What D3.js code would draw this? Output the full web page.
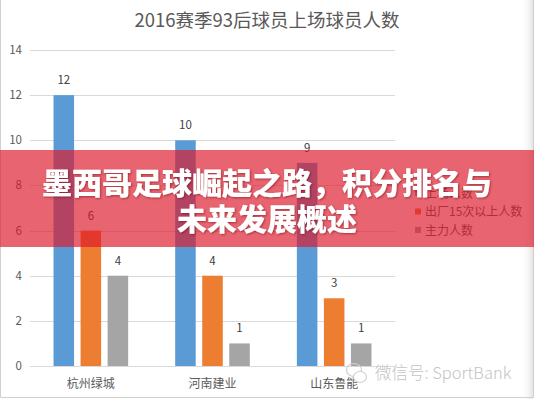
<!DOCTYPE html>
<html>
<head>
<meta charset="utf-8">
<script src="https://cdn.jsdelivr.net/npm/d3@7"></script>
<style>
  html, body { margin: 0; padding: 0; background: #fff; }
  svg { display: block; font-family: "Noto Sans CJK SC", "Noto Sans", sans-serif; }
</style>
</head>
<body>
<div id="chart"></div>
<script>
const categories = ['杭州绿城', '河南建业', '山东鲁能'];
const seriesNames = ['上场人数', '出厂15次以上人数', '主力人数'];
const seriesColors = ['#5b9bd5', '#ed7d31', '#a5a5a5'];
const played = [12, 10, 9];
const over15 = [6, 4, 3];
const starters = [4, 1, 1];
const yTicks = [0, 2, 4, 6, 8, 10, 12, 14];
const titleText = '2016赛季93后球员上场球员人数';
const bannerLines = ['墨西哥足球崛起之路，积分排名与', '未来发展概述'];

const width = 534;
const height = 399;
const plot = { left: 30, right: 395, top: 50, bottom: 366 };

const svg = d3.select('#chart').append('svg').attr('width', width).attr('height', height);
const defs = svg.append('defs');

// frame, with a faint shade along the right edge
const shade = defs.append('linearGradient').attr('id', 'shade').attr('x1', 0).attr('x2', 1);
shade.append('stop').attr('offset', 0).attr('stop-color', '#fff').attr('stop-opacity', 0);
shade.append('stop').attr('offset', 1).attr('stop-color', '#e4e4e4').attr('stop-opacity', 1);
svg.append('rect').attr('x', 521).attr('y', 0).attr('width', 12).attr('height', height).attr('fill', 'url(#shade)');
svg.append('path')
  .attr('d', `M0.5,0 V${height - 1.5} H${width - 0.5} V0`)
  .attr('fill', 'none').attr('stroke', '#d0d0d0');

svg.append('text')
  .attr('x', 267).attr('y', 27)
  .attr('text-anchor', 'middle')
  .attr('font-size', 18.5)
  .attr('fill', '#595959')
  .text(titleText);

const y = d3.scaleLinear().domain([0, 14]).range([plot.bottom, plot.top]);
const x0 = d3.scaleBand().domain(categories).range([plot.left, plot.right]);
const x1 = d3.scaleBand().domain(seriesNames).range([0, x0.bandwidth()]).paddingInner(0.24).paddingOuter(0.87);

// gridlines and y labels
const grid = svg.append('g').attr('class', 'grid');
grid.selectAll('line')
  .data(yTicks)
  .enter()
  .append('line')
  .attr('x1', plot.left).attr('x2', plot.right)
  .attr('y1', (d) => Math.round(y(d)) + 0.5)
  .attr('y2', (d) => Math.round(y(d)) + 0.5)
  .attr('stroke', '#d9d9d9');
grid.selectAll('text')
  .data(yTicks)
  .enter()
  .append('text')
  .attr('x', 22)
  .attr('y', (d) => y(d) + 4)
  .attr('text-anchor', 'end')
  .attr('font-size', 11.5)
  .attr('fill', '#595959')
  .text((d) => d);

const rows = categories.map((c, i) => ({
  category: c,
  values: [played[i], over15[i], starters[i]].map((v, j) => ({ series: seriesNames[j], value: v, color: seriesColors[j] })),
}));

const groups = svg.selectAll('g.cat')
  .data(rows)
  .enter()
  .append('g')
  .attr('class', 'cat')
  .attr('transform', (d) => `translate(${x0(d.category)},0)`);

groups.selectAll('rect')
  .data((d) => d.values)
  .enter()
  .append('rect')
  .attr('x', (d) => x1(d.series))
  .attr('y', (d) => y(d.value))
  .attr('width', x1.bandwidth())
  .attr('height', (d) => y(0) - y(d.value))
  .attr('fill', (d) => d.color);

groups.selectAll('text.val')
  .data((d) => d.values)
  .enter()
  .append('text')
  .attr('class', 'val')
  .attr('x', (d) => x1(d.series) + x1.bandwidth() / 2)
  .attr('y', (d) => y(d.value) - 11)
  .attr('text-anchor', 'middle')
  .attr('font-size', 11.5)
  .attr('fill', '#404040')
  .text((d) => d.value);

svg.selectAll('text.cat-label')
  .data(categories)
  .enter()
  .append('text')
  .attr('class', 'cat-label')
  .attr('x', (d) => x0(d) + x0.bandwidth() / 2)
  .attr('y', 387.5)
  .attr('text-anchor', 'middle')
  .attr('font-size', 12)
  .attr('fill', '#595959')
  .text((d) => d);

// legend
const legend = svg.append('g').attr('class', 'legend');
const legendItems = legend.selectAll('g')
  .data(seriesNames)
  .enter()
  .append('g')
  .attr('transform', (d, i) => `translate(415,${193 + i * 18.5})`);
legendItems.append('rect')
  .attr('x', 0).attr('y', -3)
  .attr('width', 6).attr('height', 6)
  .attr('fill', (d, i) => seriesColors[i]);
legendItems.append('text')
  .attr('x', 10).attr('y', 4.5)
  .attr('font-size', 12)
  .attr('fill', '#595959')
  .text((d) => d);

// watermark
const wm = svg.append('g').attr('class', 'watermark');
wm.append('ellipse').attr('cx', 354).attr('cy', 370).attr('rx', 7.5).attr('ry', 6.5)
  .attr('fill', 'none').attr('stroke', '#cfcfcf').attr('stroke-width', 1.2);
wm.append('ellipse').attr('cx', 360).attr('cy', 377).attr('rx', 6.5).attr('ry', 5.5)
  .attr('fill', '#fff').attr('stroke', '#cfcfcf').attr('stroke-width', 1.2);
wm.append('text')
  .attr('x', 375).attr('y', 379)
  .attr('font-size', 16.5)
  .attr('font-weight', 300)
  .attr('fill', '#c4c4c4')
  .text('微信号: SportBank');

// red banner over the chart
svg.append('rect')
  .attr('x', 0).attr('y', 150)
  .attr('width', width).attr('height', 97)
  .attr('fill', 'rgb(221,24,42)')
  .attr('fill-opacity', 0.67);

const shadow = defs.append('filter').attr('id', 'ts').attr('x', -0.1).attr('y', -0.3).attr('width', 1.2).attr('height', 1.6);
shadow.append('feDropShadow').attr('dx', 1).attr('dy', 1).attr('stdDeviation', 1).attr('flood-color', '#600').attr('flood-opacity', 0.5);

svg.append('g').attr('filter', 'url(#ts)')
  .selectAll('text')
  .data(bannerLines)
  .enter()
  .append('text')
  .attr('x', 267)
  .attr('y', (d, i) => 194 + i * 36)
  .attr('text-anchor', 'middle')
  .attr('font-size', 30)
  .attr('font-weight', 900)
  .attr('fill', '#fff')
  .text((d) => d);
</script>
</body>
</html>
